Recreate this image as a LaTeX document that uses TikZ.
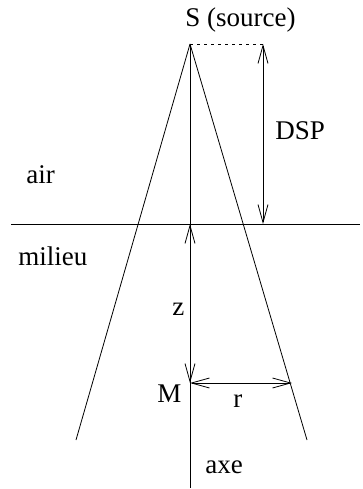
\documentclass[tikz,border=0pt]{standalone}
\usepackage{fontspec}
\setmainfont{Liberation Serif}
\usetikzlibrary{arrows.meta}
\begin{document}
\begin{tikzpicture}[x=1pt,y=-1pt,
  line width=0.8pt,
  lbl/.style={anchor=base west,inner sep=0pt,font=\fontsize{27}{32}\selectfont},
  dim/.style={{Straight Barb[length=18pt,width=10pt]}-{Straight Barb[length=18pt,width=10pt]}}]
\useasboundingbox (0,0) rectangle (362,489);
% key points
\coordinate (S) at (190,44);
\coordinate (D) at (263,44);
\coordinate (Ssurf) at (190,224);
\coordinate (Dsurf) at (263,224);
\coordinate (Hl) at (11,224);
\coordinate (Hr) at (360,224);
\coordinate (M) at (190,383);
\coordinate (R) at (292,383);
\coordinate (Ab) at (190,488);
\coordinate (Lb) at (76,440);
\coordinate (Rb) at (307,440);
% lines
\draw (Hl) -- (Hr);
\draw (S) -- (Ab);
\draw (S) -- (Lb);
\draw (S) -- (Rb);
\draw[dashed,line width=0.6pt,dash pattern=on 3pt off 4pt] (S) -- (D);
\draw[dim] (D) -- (Dsurf);
\draw[dim] (Ssurf) -- (M);
\draw[dim] (M) -- (R);
% labels
\node[lbl] (src) at (185,27) {S (source)};
\node[lbl] (dsp) at (275,140) {DSP};
\node[lbl] (air) at (26,183) {air};
\node[lbl] (mil) at (18,265) {milieu};
\node[lbl] (zl) at (172,315) {z};
\node[lbl] (Ml) at (157,402) {M};
\node[lbl] (rl) at (233,407) {r};
\node[lbl] (axe) at (205,473) {axe};
\end{tikzpicture}
\end{document}
